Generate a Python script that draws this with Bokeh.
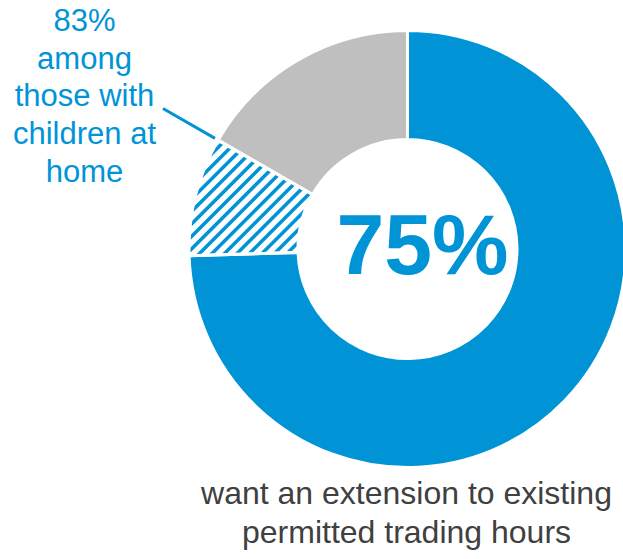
import math
from bokeh.plotting import figure
from bokeh.models import Range1d, ColumnDataSource
from bokeh.core.properties import value
from bokeh.embed import file_html
from bokeh.resources import INLINE

# ---- data ----
segments = ["Want an extension", "Among those with children at home", "Others"]
shares = [74.5, 8.8, 16.7]
seg_colors = ["#0094D7", "#FFFFFF", "#BFBFBF"]
seg_hatched = [False, True, False]
headline = "75%"
side_label = ["83%", "among", "those with", "children at", "home"]
caption = ["want an extension to existing", "permitted trading hours"]

BLUE = "#0094D7"
DARK = "#404040"
FONT = "Liberation Sans"

W, H = 623, 559
p = figure(width=W, height=H, x_range=Range1d(0, W), y_range=Range1d(0, H),
           output_backend="svg", toolbar_location=None, min_border=0,
           x_axis_type=None, y_axis_type=None)
p.grid.visible = False
p.outline_line_color = None
p.background_fill_color = "white"
p.border_fill_color = "white"

cx, cy = 407, H - 248.5
R_out, R_in = 218.5, 109.5
GAP = 3

total = sum(shares)
starts, ends = [], []
cum = 0.0
for s in shares:
    starts.append(math.pi / 2 - 2 * math.pi * cum / total)
    cum += s
    ends.append(math.pi / 2 - 2 * math.pi * cum / total)

src = ColumnDataSource(dict(x=[cx] * len(shares), y=[cy] * len(shares),
                            start=starts, end=ends, color=seg_colors,
                            name=segments))
# fills
p.annular_wedge(x="x", y="y", inner_radius=R_in, outer_radius=R_out,
                start_angle="start", end_angle="end", direction="clock",
                fill_color="color", line_color=None, source=src)

# diagonal hatch stripes for the hatched segment(s), clipped to the sector
def inside(px, py, a_hi, a_lo):
    dx, dy = px - cx, py - cy
    r = math.hypot(dx, dy)
    if r < R_in or r > R_out:
        return False
    a = math.atan2(dy, dx)
    # bring into range around the sector
    while a > a_hi:
        a -= 2 * math.pi
    while a < a_hi - 2 * math.pi:
        a += 2 * math.pi
    return a >= a_lo

hx, hy = [], []
for i, h in enumerate(seg_hatched):
    if not h:
        continue
    a_hi, a_lo = starts[i], ends[i]   # clockwise from a_hi down to a_lo
    period = 12.5
    step = 0.25
    c = -(W + H)
    while c < W + H:
        # line: x - y = c  (rises to the right, "/")
        run = []
        t = 0.0
        while t <= W:
            x = t
            y = t - c
            if 0 <= y <= H and inside(x, y, a_hi, a_lo):
                run.append((x, y))
            else:
                if len(run) > 1:
                    hx.append([run[0][0], run[-1][0]])
                    hy.append([run[0][1], run[-1][1]])
                run = []
            t += step
        if len(run) > 1:
            hx.append([run[0][0], run[-1][0]])
            hy.append([run[0][1], run[-1][1]])
        c += period
p.multi_line(xs=hx, ys=hy, line_color=BLUE, line_width=3.6, line_cap="butt")

# white separators / outlines on top
p.annular_wedge(x="x", y="y", inner_radius=R_in, outer_radius=R_out,
                start_angle="start", end_angle="end", direction="clock",
                fill_alpha=0, line_color="white", line_width=GAP, source=src)

# leader line along the boundary of the hatched segment
theta = ends[1]
r0, r1 = 222, 282
p.line(x=[cx + r0 * math.cos(theta), cx + r1 * math.cos(theta)],
       y=[cy + r0 * math.sin(theta), cy + r1 * math.sin(theta)],
       line_color=BLUE, line_width=3)

K = 0.385  # baseline correction (fraction of font size)

# headline
fs = 86
p.text(x=[422], y=[H - 277 + K * fs], text=[headline], text_font=value(FONT),
       text_font_style="bold", text_font_size=f"{fs}px", text_color=BLUE,
       text_align="center", text_baseline="alphabetic")

# side label
fs = 31
p.text(x=[84] * len(side_label),
       y=[H - 32 - i * 37.7 + K * fs for i in range(len(side_label))],
       text=side_label, text_font=value(FONT), text_font_size=f"{fs}px",
       text_color=BLUE, text_align="center", text_baseline="alphabetic")

# caption
fs = 32
p.text(x=[406] * len(caption),
       y=[H - 505 - i * 39 + K * fs for i in range(len(caption))],
       text=caption, text_font=value(FONT), text_font_size=f"{fs}px",
       text_color=DARK, text_align="center", text_baseline="alphabetic")

open("out.html", "w").write(file_html(p, INLINE))
